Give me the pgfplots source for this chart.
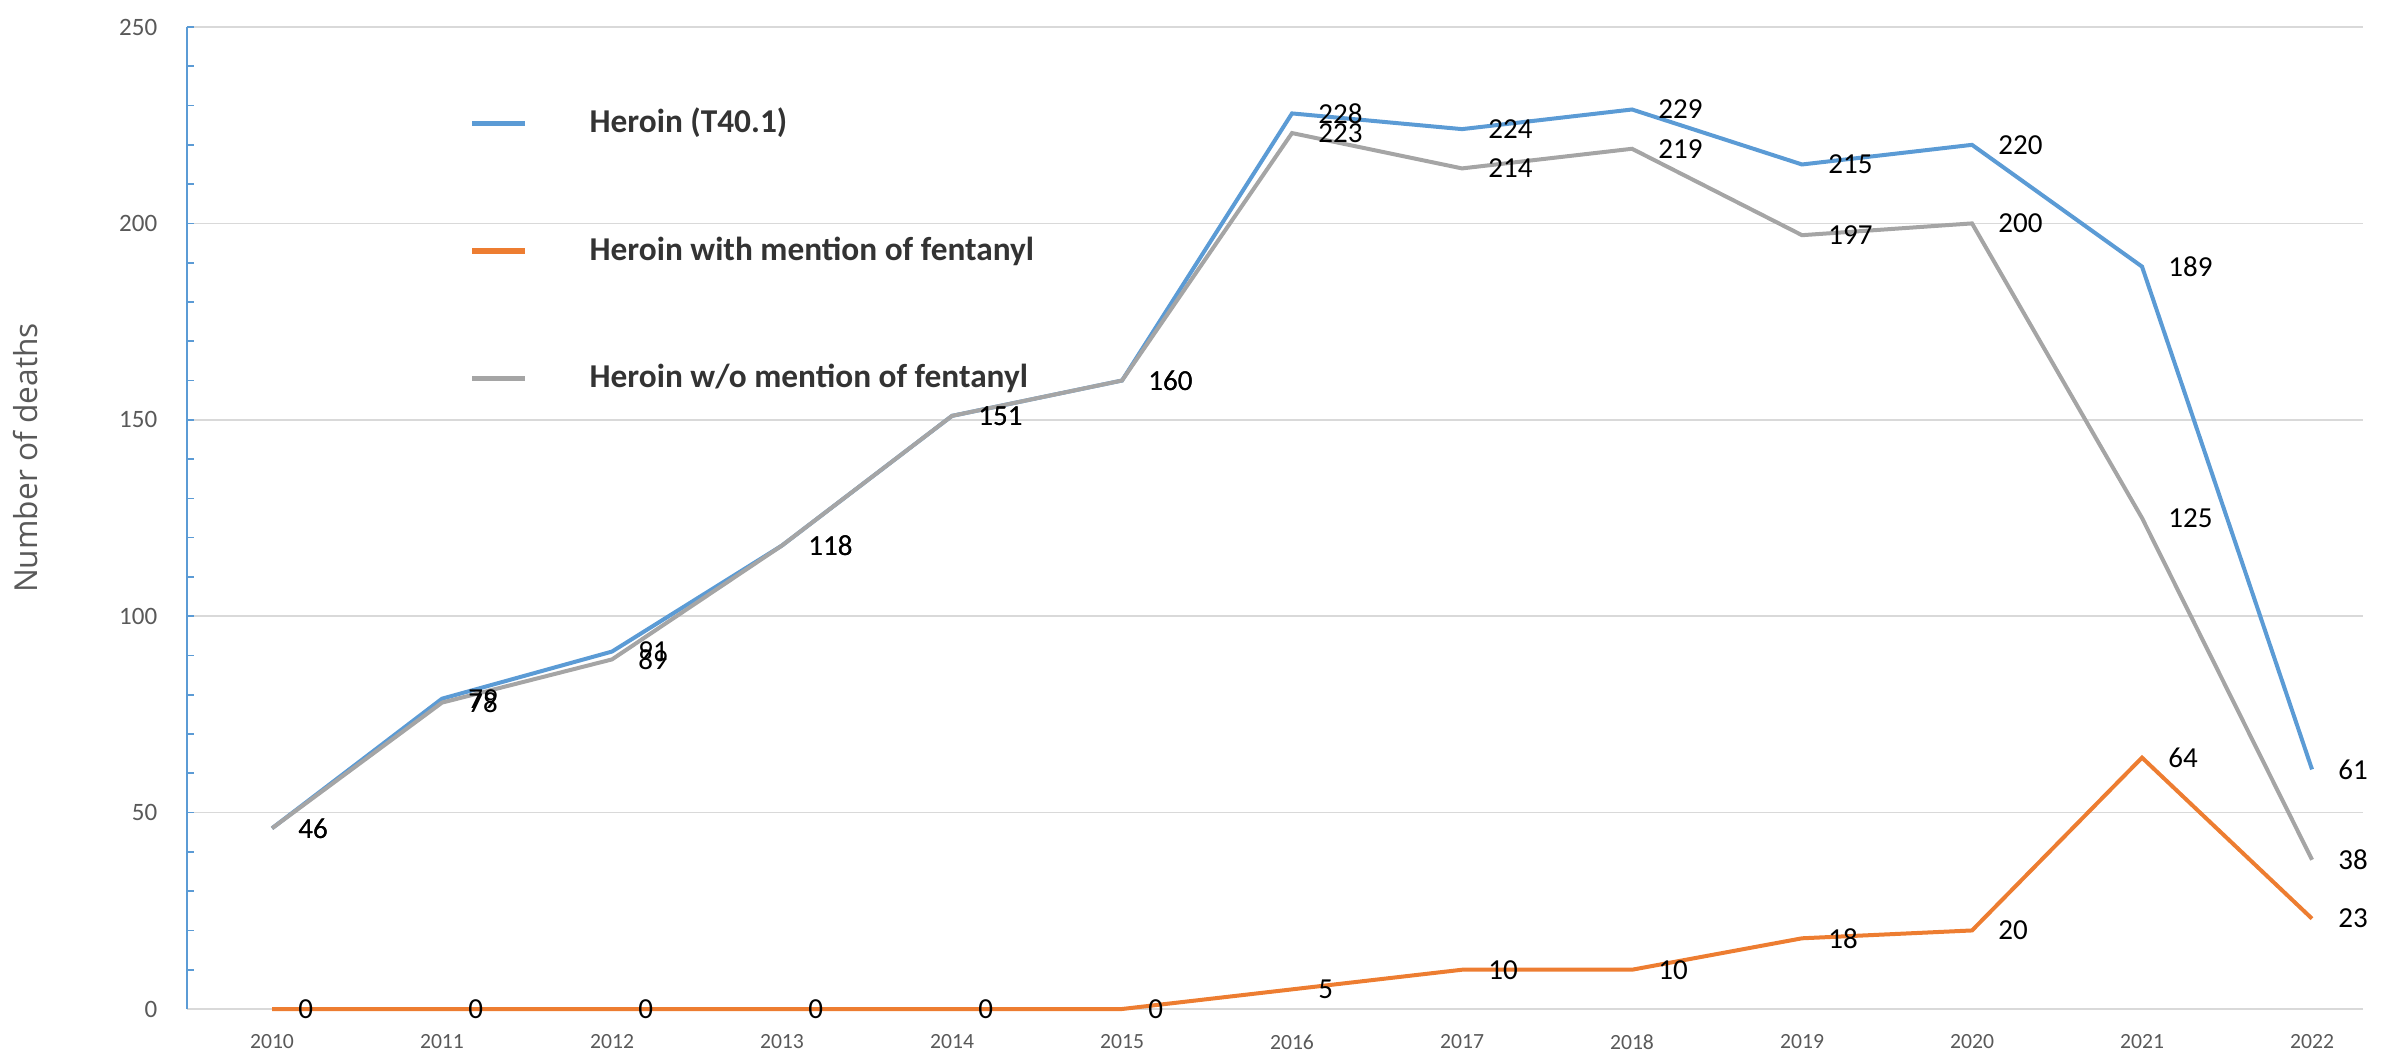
\documentclass[border=0pt]{standalone}
\usepackage{pgfplots}
\pgfplotsset{compat=1.18}
\usepackage{fontspec}
\setmainfont{Carlito}
\newfontfamily\osans{Open Sans}

\definecolor{lineblue}{HTML}{5B9BD5}
\definecolor{lineorange}{HTML}{ED7D31}
\definecolor{linegray}{HTML}{A5A5A5}
\definecolor{gridgray}{HTML}{D9D9D9}
\definecolor{ticktext}{HTML}{595959}
\definecolor{legtext}{HTML}{333333}

\begin{document}
\begin{tikzpicture}
% fixed page frame around the axis box
\useasboundingbox (-56.1pt,-13.5pt) rectangle (660pt,302.7pt);
\begin{axis}[
  scale only axis,
  width=652.8pt, height=294.6pt,
  at={(0,0)}, anchor=south west,
  xmin=2009.5, xmax=2022.3,
  ymin=0, ymax=250,
  clip=false,
  separate axis lines,
  axis y line*=left,
  axis x line*=bottom,
  y axis line style={draw=lineblue, line width=0.6pt},
  x axis line style={draw=gridgray, line width=0.6pt},
  xtick={2010,2011,...,2022},
  x tick style={draw=none},
  ytick={0,50,...,250},
  minor y tick num=4,
  tick align=inside,
  major tick length=2.2pt,
  minor tick length=2.2pt,
  y tick style={draw=lineblue, line width=0.5pt},
  minor y tick style={draw=lineblue, line width=0.5pt},
  ymajorgrids,
  grid style={draw=gridgray, line width=0.5pt},
  /pgf/number format/assume math mode=true,
  /pgf/number format/1000 sep={},
  xticklabel style={font=\fontsize{6.5}{7}\selectfont, text=ticktext,
    inner sep=0.5pt, yshift=-7pt},
  yticklabel style={font=\fontsize{7.5}{9}\selectfont, text=ticktext, xshift=-5.4pt},
  ylabel={Number of deaths},
  ylabel style={font=\osans\fontsize{9.5}{11}\selectfont, text=ticktext,
    at={(axis description cs:-0.074,0.561)}, anchor=center, rotate=0},
  legend cell align=left,
  legend image code/.code={\draw[#1, line width=1.6pt] (0pt,0pt) -- (15.9pt,0pt);},
  legend style={at={(axis description cs:0.125,0.932)}, anchor=north west,
    draw=none, fill=none, font=\bfseries\fontsize{10}{12}\selectfont,
    text=legtext, row sep=24.7pt,
    nodes={text height=7.5pt, text depth=2pt},
    /tikz/every odd column/.append style={column sep=16.5pt}},
  nodes near coords,
  every node near coord/.append style={font=\fontsize{8.7}{10}\selectfont,
    text=black, anchor=west, xshift=4pt, yshift=0pt},
]
\addplot[lineblue, line width=1.2pt] coordinates {
  (2010,46) (2011,79) (2012,91) (2013,118) (2014,151) (2015,160) (2016,228)
  (2017,224) (2018,229) (2019,215) (2020,220) (2021,189) (2022,61)};
\addlegendentry{Heroin (T40.1)}
\addplot[lineorange, line width=1.2pt] coordinates {
  (2010,0) (2011,0) (2012,0) (2013,0) (2014,0) (2015,0) (2016,5)
  (2017,10) (2018,10) (2019,18) (2020,20) (2021,64) (2022,23)};
\addlegendentry{Heroin with mention of fentanyl}
\addplot[linegray, line width=1.2pt] coordinates {
  (2010,46) (2011,78) (2012,89) (2013,118) (2014,151) (2015,160) (2016,223)
  (2017,214) (2018,219) (2019,197) (2020,200) (2021,125) (2022,38)};
\addlegendentry{Heroin w/o mention of fentanyl}
\end{axis}
\end{tikzpicture}
\end{document}
